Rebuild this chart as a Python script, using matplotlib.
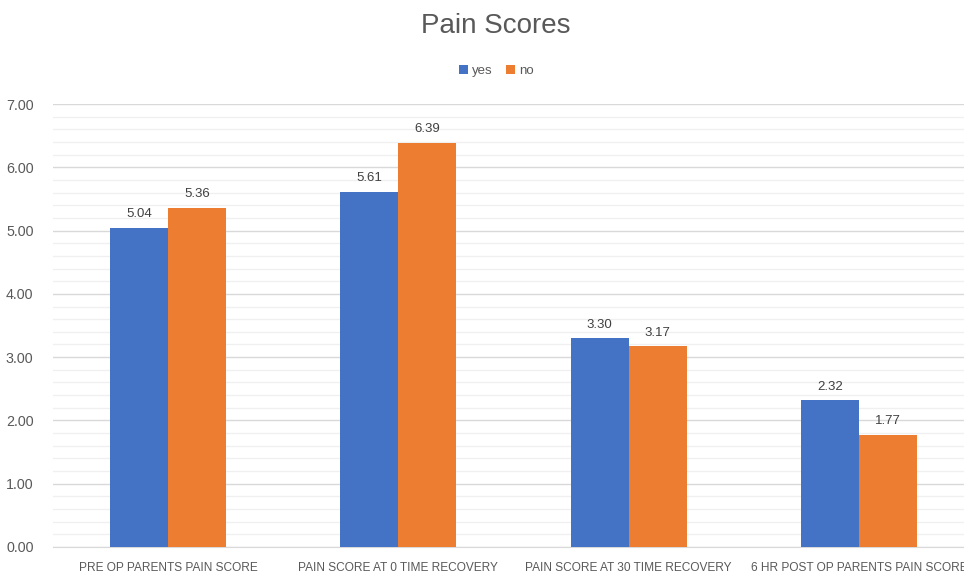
import matplotlib
matplotlib.use("Agg")
import matplotlib.pyplot as plt
import numpy as np

categories = ['PRE OP PARENTS PAIN SCORE', 'PAIN SCORE AT 0 TIME RECOVERY',
              'PAIN SCORE AT 30 TIME RECOVERY', '6 HR POST OP PARENTS PAIN SCORE']
yes_vals = [5.04, 5.61, 3.30, 2.32]
no_vals = [5.36, 6.39, 3.17, 1.77]

BLUE = '#4472C4'
ORANGE = '#ED7D31'
TEXT = '#595959'

plt.rcParams['font.family'] = ['Liberation Sans', 'DejaVu Sans']

fig = plt.figure(figsize=(9.64, 5.74), dpi=100)
ax = fig.add_axes([53 / 964, 27 / 574, (974 - 53) / 964, (547 - 104) / 574])

x = np.arange(len(categories))
w = 0.252
b1 = ax.bar(x - w / 2, yes_vals, w, color=BLUE, label='yes', zorder=3)
b2 = ax.bar(x + w / 2, no_vals, w, color=ORANGE, label='no', zorder=3)

for bars in (b1, b2):
    for r in bars:
        ax.text(r.get_x() + r.get_width() / 2, r.get_height() + 0.12,
                f'{r.get_height():.2f}', ha='center', va='bottom',
                fontsize=9.5, color='#404040')

ax.set_xlim(-0.5, len(categories) - 0.5)
ax.set_ylim(0, 7)
ax.set_yticks(np.arange(0, 7.01, 1))
ax.set_yticklabels([f'{v:.2f}' for v in np.arange(0, 7.01, 1)])
ax.set_yticks(np.arange(0, 7.01, 0.2), minor=True)
ax.grid(axis='y', which='major', color='#d9d9d9', linewidth=1, zorder=0)
ax.grid(axis='y', which='minor', color='#f0f0f0', linewidth=1, zorder=0)
ax.set_xticks(x)
ax.set_xticklabels(categories)
ax.tick_params(axis='both', which='both', length=0, colors=TEXT)
ax.tick_params(axis='x', pad=11, labelsize=8.6)
ax.tick_params(axis='y', pad=14, labelsize=10.3)
for s in ('top', 'right', 'left'):
    ax.spines[s].set_visible(False)
ax.spines['bottom'].set_color('#d9d9d9')

fig.text(0.514, 0.955, 'Pain Scores', ha='center', va='center',
         fontsize=20, color=TEXT)
fig.legend(loc='center', bbox_to_anchor=(0.515, 0.876), ncol=2, frameon=False,
           fontsize=9.5, handlelength=0.7, handleheight=0.7,
           columnspacing=1.0, handletextpad=0.3, labelcolor=TEXT)

fig.savefig('out.png', dpi=100)
